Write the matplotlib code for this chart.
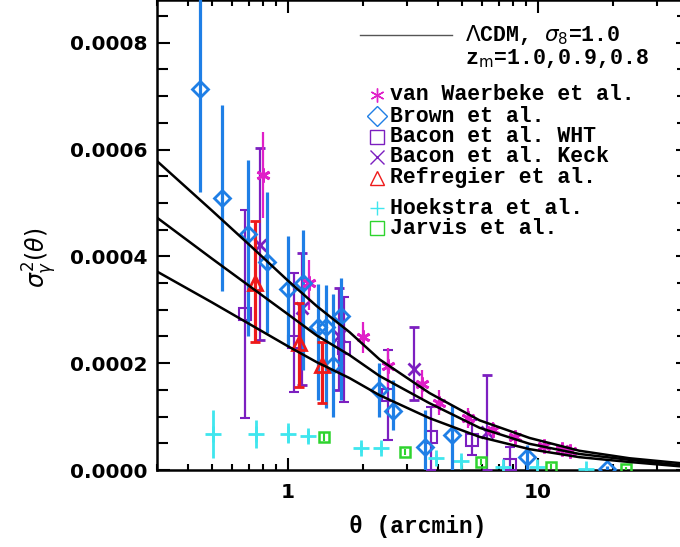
import matplotlib
matplotlib.use('Agg')
import matplotlib.pyplot as plt
from matplotlib.lines import Line2D
from matplotlib.ticker import FixedLocator, MultipleLocator, NullFormatter
import numpy as np

''' values read off the figure, sigma^2 in units of 1e-4 '''
# LCDM sigma8 = 1.0 models, z_m = 1.0, 0.9, 0.8
theta_model = [0.299, 0.497, 0.705, 1.0, 1.306, 1.77, 2.333, 3.698, 5.861, 9.29, 14.72, 23.33, 36.98]
model_z10 = [5.79, 4.86, 4.21, 3.55, 3.07, 2.58, 2.07, 1.44, 0.93, 0.60, 0.36, 0.22, 0.13]
model_z09 = [4.73, 3.96, 3.44, 2.92, 2.52, 2.15, 1.76, 1.25, 0.79, 0.49, 0.30, 0.19, 0.09]
model_z08 = [3.72, 3.14, 2.73, 2.32, 2.02, 1.72, 1.40, 0.97, 0.62, 0.39, 0.24, 0.15, 0.07]

# Brown et al.
brown_theta = [0.445, 0.545, 0.692, 0.824, 1.0, 1.148, 1.318, 1.419, 1.514, 1.63, 2.31, 2.63, 3.53, 4.53, 9.04, 19.05]
brown_sig = [7.14, 5.10, 4.41, 3.89, 3.38, 3.50, 2.67, 2.67, 1.96, 2.88, 1.50, 1.10, 0.43, 0.65, 0.24, 0.01]
brown_lo = [5.20, 3.36, 2.50, 2.56, 2.30, 1.87, 1.31, 1.16, 1.00, 1.31, 0.99, 0.75, 0.0, 0.0, 0.0, 0.0]
brown_hi = [9.50, 6.84, 5.81, 5.21, 4.39, 4.49, 3.48, 3.46, 3.30, 3.59, 2.00, 1.68, 1.12, 1.21, 0.47, 0.08]

# van Waerbeke et al.
vw_theta = [0.794, 1.213, 2.01, 2.51, 3.44, 4.02, 5.25, 6.61, 8.09, 10.66, 12.47, 13.43]
vw_sig = [5.53, 3.50, 2.49, 1.94, 1.61, 1.25, 0.97, 0.75, 0.62, 0.45, 0.39, 0.36]
vw_lo = [4.71, 2.99, 2.19, 1.55, 1.31, 1.03, 0.79, 0.60, 0.52, 0.38, 0.33, 0.31]
vw_hi = [6.32, 3.93, 2.77, 2.28, 1.87, 1.50, 1.16, 0.90, 0.72, 0.52, 0.45, 0.41]

# Bacon et al. Keck
keck_theta = [0.773, 1.138, 1.60, 3.19, 6.25]
keck_sig = [4.21, 3.03, 2.50, 1.89, 0.71]
keck_lo = [2.43, 1.60, 1.50, 1.31, 0.0]
keck_hi = [6.02, 4.07, 3.40, 2.67, 1.78]

# Bacon et al. WHT
wht_theta = [0.673, 1.057, 1.675, 2.51, 3.73, 5.45, 7.73]
wht_sig = [2.93, 2.39, 2.28, 1.40, 0.62, 0.56, 0.09]
wht_lo = [0.97, 1.46, 1.27, 0.56, 0.0, 0.28, 0.0]
wht_hi = [4.86, 3.68, 3.23, 2.24, 1.18, 0.93, 0.43]

# Refregier et al.
ref_theta = [0.738, 1.107, 1.368]
ref_sig = [3.50, 2.37, 1.96]
ref_lo = [2.39, 1.55, 1.25]
ref_hi = [4.67, 3.12, 2.40]

# Hoekstra et al.
hoek_theta = [0.501, 0.745, 1.0, 1.202, 1.96, 2.36, 3.94, 4.92, 7.24, 9.91, 15.56]
hoek_sig = [0.67, 0.67, 0.67, 0.64, 0.41, 0.41, 0.22, 0.17, 0.06, 0.06, 0.02]
hoek_lo = [0.22, 0.41, 0.50, 0.52, 0.33, 0.33, 0.15, 0.10, 0.0, 0.0, 0.0]
hoek_hi = [1.12, 0.93, 0.88, 0.75, 0.50, 0.50, 0.30, 0.24, 0.12, 0.12, 0.06]

# Jarvis et al.
jarvis_theta = [1.393, 2.96, 5.92, 11.27, 22.5]
jarvis_sig = [0.62, 0.34, 0.15, 0.06, 0.01]
jarvis_lo = [0.55, 0.28, 0.09, 0.01, 0.0]
jarvis_hi = [0.69, 0.40, 0.21, 0.11, 0.06]

c_brown = '#1f7fe6'
c_vw = '#e020c8'
c_bacon = '#7c1fc0'
c_ref = '#ee1a1a'
c_hoek = '#3fe6ee'
c_jarvis = '#2ed42e'

W, H = 680, 547
def fx(px):
    return px / W
def fy(py):
    return 1 - py / H

mono = 'Liberation Mono'
fs_leg = 15.5

fig = plt.figure(figsize=(W / 100, H / 100), dpi=100)
ax = fig.add_axes([fx(157), fy(470), (688 - 157) / W, 470 / H])


def err(sig, lo, hi):
    s = np.array(sig) * 1e-4
    return s, [s - np.array(lo) * 1e-4, np.array(hi) * 1e-4 - s]


# model curves
for m in [model_z10, model_z09, model_z08]:
    ax.plot(theta_model, np.array(m) * 1e-4, color='black', lw=1.8, zorder=5)

# data sets
s, e = err(brown_sig, brown_lo, brown_hi)
ax.errorbar(brown_theta, s, yerr=e, fmt='D', ms=8, mfc='none', mec=c_brown, mew=2,
            ecolor=c_brown, elinewidth=2.3, capsize=0, zorder=4)
s, e = err(wht_sig, wht_lo, wht_hi)
ax.errorbar(wht_theta, s, yerr=e, fmt='s', ms=8, mfc='none', mec=c_bacon, mew=1.5,
            ecolor=c_bacon, elinewidth=1.6, capsize=3.5, capthick=1.6, zorder=3)
s, e = err(keck_sig, keck_lo, keck_hi)
ax.errorbar(keck_theta, s, yerr=e, fmt='x', ms=9, mec=c_bacon, mew=2,
            ecolor=c_bacon, elinewidth=1.6, capsize=3.5, capthick=1.6, zorder=3)
s, e = err(vw_sig, vw_lo, vw_hi)
ax.errorbar(vw_theta, s, yerr=e, fmt='none', ecolor=c_vw, elinewidth=1.6, capsize=0, zorder=3)
ax.plot(vw_theta, s, ls='none', marker=(6, 2, 0), ms=10, mec=c_vw, mew=2, zorder=4)
s, e = err(ref_sig, ref_lo, ref_hi)
ax.errorbar(ref_theta, s, yerr=e, fmt='^', ms=10, mfc='none', mec=c_ref, mew=2,
            ecolor=c_ref, elinewidth=2.3, capsize=3.5, capthick=2, zorder=4)
s, e = err(hoek_sig, hoek_lo, hoek_hi)
ax.errorbar(hoek_theta, s, yerr=e, fmt='+', ms=11, mec=c_hoek, mew=2,
            ecolor=c_hoek, elinewidth=2, capsize=0, zorder=3)
s, e = err(jarvis_sig, jarvis_lo, jarvis_hi)
ax.errorbar(jarvis_theta, s, yerr=e, fmt='s', ms=7, mfc='none', mec=c_jarvis, mew=1.8,
            ecolor=c_jarvis, elinewidth=1.5, capsize=0, zorder=3)

ax.set_xscale('log')
ax.set_xlim(0.3, 40)
ax.set_ylim(0, 0.00088)

ax.yaxis.set_major_locator(FixedLocator([0, 0.0002, 0.0004, 0.0006, 0.0008]))
ax.yaxis.set_minor_locator(MultipleLocator(0.00005))
ax.set_yticklabels(['0.0000', '0.0002', '0.0004', '0.0006', '0.0008'])
ax.set_xticks([1, 10])
ax.set_xticklabels(['1', '10'])
ax.xaxis.set_minor_formatter(NullFormatter())
ax.tick_params(which='both', direction='in', top=True, right=True, width=1.5)
ax.tick_params(which='major', length=9)
ax.tick_params(which='minor', length=4)
ax.tick_params(axis='y', which='minor', length=8)
ax.tick_params(axis='x', which='major', pad=9)
ax.tick_params(axis='y', which='major', pad=7)
for lab in ax.get_xticklabels() + ax.get_yticklabels():
    lab.set_fontsize(14.5)
    lab.set_fontweight('bold')
    lab.set_family('DejaVu Sans')
for sp in ax.spines.values():
    sp.set_linewidth(1.8)

fig.text(fx(418), fy(527), 'θ (arcmin)', family=mono, weight='bold', fontsize=16.5,
         ha='center', va='center')
fig.text(fx(40), fy(258), r'$\sigma^2_\gamma(\theta)$', fontsize=17, rotation=90,
         ha='center', va='center')

''' hand made legend '''
fig.add_artist(Line2D([fx(360), fx(452)], [fy(35), fy(35)], color='#555555', lw=1,
                      transform=fig.transFigure))
fig.text(fx(465), fy(35), r'$\Lambda$CDM, $\sigma_8$=1.0', family=mono, weight='bold',
         fontsize=fs_leg, va='center')
fig.text(fx(465), fy(59), r'z$_{\rm m}$=1.0,0.9,0.8', family=mono, weight='bold',
         fontsize=fs_leg, va='center')

leg_labels = ['van Waerbeke et al.', 'Brown et al.', 'Bacon et al. WHT', 'Bacon et al. Keck',
              'Refregier et al.', 'Hoekstra et al.', 'Jarvis et al.']
leg_markers = [(6, 2, 0), 'D', 's', 'x', '^', '+', 's']
leg_colors = [c_vw, c_brown, c_bacon, c_bacon, c_ref, c_hoek, c_jarvis]
leg_y = [95, 116, 137, 157, 178, 208, 228]
for lab, mk, col, yy in zip(leg_labels, leg_markers, leg_colors, leg_y):
    fig.add_artist(Line2D([fx(377)], [fy(yy)], marker=mk, ms=10, mfc='none', mec=col, mew=1,
                          ls='none', transform=fig.transFigure))
    fig.text(fx(390), fy(yy), lab, family=mono, weight='bold', fontsize=fs_leg, va='center')

fig.savefig('out.png', dpi=100)
